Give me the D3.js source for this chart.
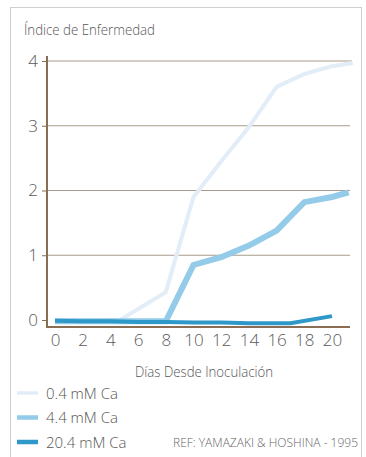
<!DOCTYPE html>
<html><head><meta charset="utf-8">
<script src="https://cdn.jsdelivr.net/npm/d3@7"></script>
<style>body{margin:0;background:#fff}svg{display:block}text{font-family:"Open Sans",sans-serif;}</style>
</head><body><svg id="c" width="366" height="457"></svg>
<script>
const xTicks = [0,2,4,6,8,10,12,14,16,18,20];
const yTicks = [0,1,2,3,4];
const seriesNames = ["0.4 mM Ca","4.4 mM Ca","20.4 mM Ca"];
const days04 = [0,2,4,4.7,8,10,12,14,16,18,20,21.5];
const vals04 = [0,0,0,0,0.43,1.9,2.45,2.98,3.6,3.8,3.92,3.97];
const days44 = [0,2,4,6,8,10,12,14,16,18,20,21.2];
const vals44 = [-0.02,-0.02,-0.02,-0.02,-0.02,0.85,0.97,1.15,1.38,1.82,1.9,1.97];
const days204 = [0,2,4,6,8,10,12,14,16,17,20];
const vals204 = [-0.01,-0.02,-0.02,-0.03,-0.03,-0.04,-0.04,-0.05,-0.05,-0.05,0.06];
const colors = ["#e3edf7","#93cbe8","#2e98c8"];
const widths = [4,6,4];
const legendWidths = [3.5,4.5,4.5];

const svg = d3.select("#c");
const x = d3.scaleLinear().domain([0,20]).range([55,332]);
const y = d3.scaleLinear().domain([0,4]).range([320,61]);

// frame
svg.append("rect").attr("x",10.5).attr("y",7.5).attr("width",351).attr("height",470)
  .attr("fill","none").attr("stroke","#cfcfcf").attr("stroke-width",1);

// grid
svg.append("g").selectAll("line").data(yTicks.filter(d=>d>0)).join("line")
  .attr("x1",47).attr("x2",d=>d===4?352:350)
  .attr("y1",d=>y(d)).attr("y2",d=>y(d))
  .attr("stroke","#a99c8c").attr("stroke-width",1);

// y axis
const yAxis = d3.axisLeft(y).tickValues(yTicks).tickSize(5).tickPadding(4).tickFormat(d3.format("d"));
const gy = svg.append("g").attr("transform","translate(47,0)").call(yAxis);
gy.select(".domain").remove();
gy.selectAll(".tick line").attr("stroke","#8a6d52").attr("stroke-width",1);
gy.selectAll(".tick text").attr("font-size",17).attr("fill","#5a5a5a").attr("font-weight",300);
svg.append("line").attr("x1",47).attr("x2",47).attr("y1",56).attr("y2",328)
  .attr("stroke","#8a6d52").attr("stroke-width",2);

// x axis
const xAxis = d3.axisBottom(x).tickValues(xTicks).tickSize(0).tickPadding(7).tickFormat(d3.format("d"));
const gx = svg.append("g").attr("transform","translate(0,327)").call(xAxis);
gx.select(".domain").remove();
gx.selectAll(".tick text").attr("font-size",17).attr("fill","#5a5a5a").attr("font-weight",300);

// lines
const line = d3.line().x(d=>x(d[0])).y(d=>y(d[1]));
const data = [d3.zip(days04,vals04), d3.zip(days44,vals44), d3.zip(days204,vals204)];
data.forEach((pts,i)=>{
  svg.append("path").datum(pts).attr("d",line).attr("fill","none")
    .attr("stroke",colors[i]).attr("stroke-width",widths[i]).attr("stroke-linejoin","miter");
});
svg.append("line").attr("x1",47).attr("x2",350).attr("y1",327).attr("y2",327)
  .attr("stroke","#8a6d52").attr("stroke-width",2);

// title
svg.append("text").attr("x",24).attr("y",35).attr("font-size",15).attr("fill","#555").attr("font-weight",300)
  .attr("textLength",131).attr("lengthAdjust","spacingAndGlyphs")
  .text("Índice de Enfermedad");
svg.append("text").attr("x",135).attr("y",377).attr("font-size",15)
  .attr("textLength",138).attr("lengthAdjust","spacingAndGlyphs")
  .attr("fill","#555").attr("font-weight",300).text("Días Desde Inoculación");

// legend
seriesNames.forEach((n,i)=>{
  const ly = 393 + i*24.5;
  svg.append("line").attr("x1",17).attr("x2",38).attr("y1",ly).attr("y2",ly)
    .attr("stroke",colors[i]).attr("stroke-width",legendWidths[i]);
  svg.append("text").attr("x",46).attr("y",ly+5.5).attr("font-size",15).attr("fill","#555")
    .attr("font-weight",300).text(n);
});
svg.append("text").attr("x",173).attr("y",447).attr("font-size",12)
  .attr("textLength",185).attr("lengthAdjust","spacingAndGlyphs")
  .attr("fill","#666").attr("font-weight",300).text("REF: YAMAZAKI & HOSHINA - 1995");
</script></body></html>
